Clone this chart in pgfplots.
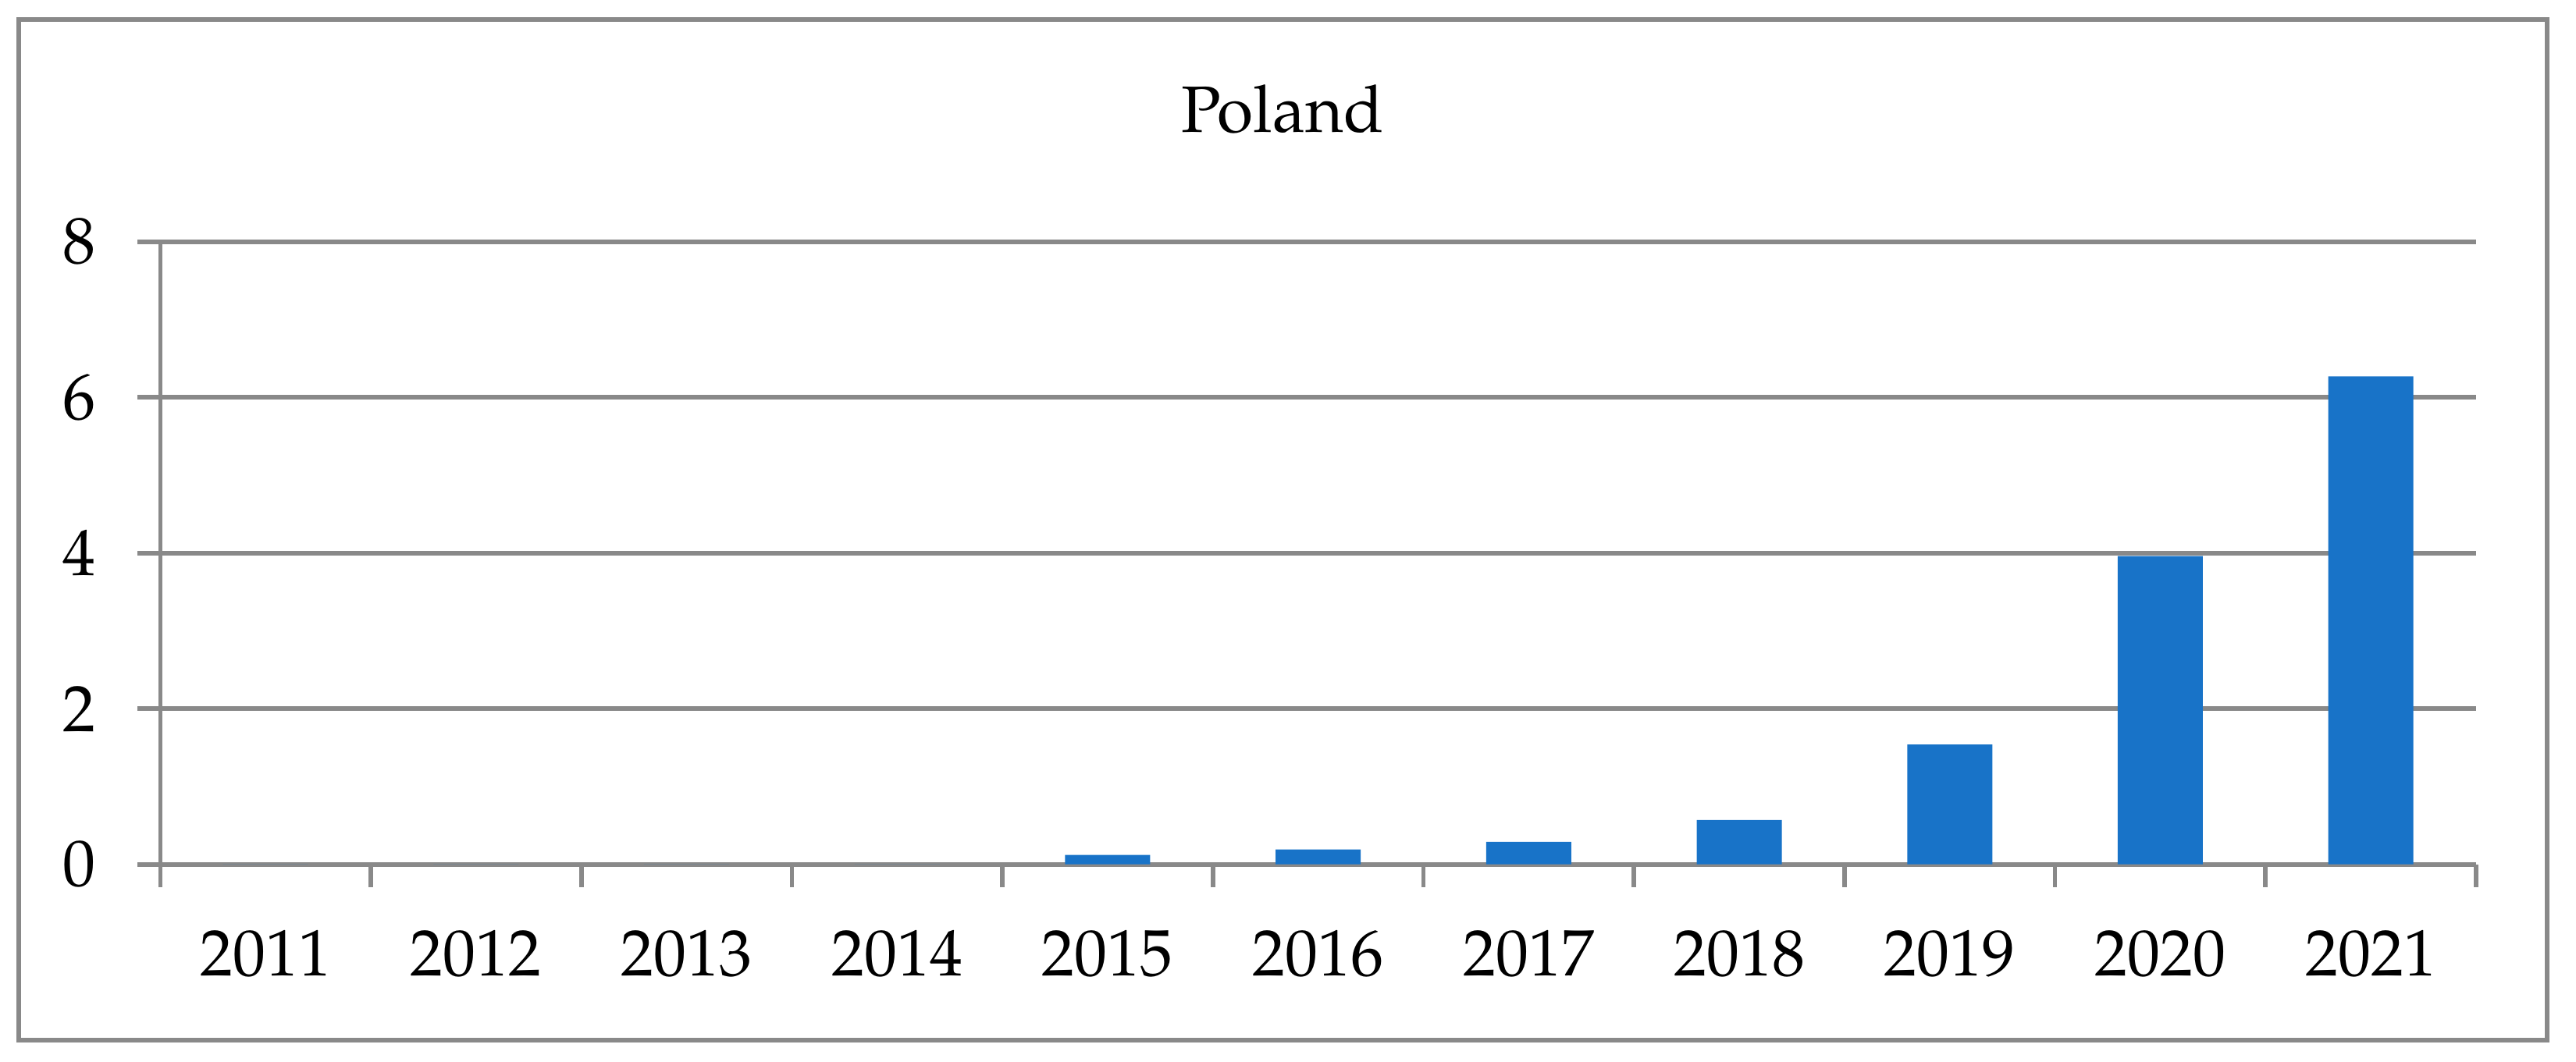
\documentclass[border=0pt]{standalone}
\usepackage{fontspec}
\setmainfont{texgyrepagella-regular.otf}
\usepackage{pgfplots}
\pgfplotsset{compat=1.18}
\definecolor{barBlue}{HTML}{1873C8}
\definecolor{lineGray}{HTML}{898989}

\begin{document}
\begin{tikzpicture}
  \useasboundingbox (0,0) rectangle (495pt,204pt);
  \begin{axis}[
    at={(30.8pt,37.85pt)}, anchor=south west,
    scale only axis,
    width=445pt, height=119.7pt,
    xmin=-0.5, xmax=10.5,
    ymin=0, ymax=8,
    axis x line*=bottom,
    axis y line*=left,
    axis line style={lineGray, line width=0.85pt, -},
    xtick={0,...,10},
    xticklabels={2011,2012,2013,2014,2015,2016,2017,2018,2019,2020,2021},
    minor xtick={-0.5,0.5,...,10.5},
    major x tick style={draw=none},
    minor x tick style={draw=lineGray, line width=0.85pt},
    minor tick length=4.35pt,
    ytick={0,2,4,6,8},
    yticklabels={0,2,4,6,8},
    ytick style={lineGray, line width=0.85pt},
    major tick length=4.35pt,
    tick align=outside,
    ymajorgrids,
    grid style={lineGray, line width=0.85pt},
    tick label style={font=\fontsize{12.6}{15}\selectfont, black},
    xticklabel style={anchor=base, yshift=-17pt},
    yticklabel style={anchor=east, xshift=-4.5pt},
    title={Poland},
    title style={font=\fontsize{12.6}{15}\selectfont, anchor=base,
      at={(0.4846,1)}, yshift=15.1pt},
    clip=false,
  ]
    \addplot[ybar, bar width=16.35pt, fill=barBlue, draw=none] coordinates {
      (0,0) (1,0) (2,0) (3,0) (4,0.12) (5,0.19) (6,0.29) (7,0.57)
      (8,1.54) (9,3.96) (10,6.27)
    };
  \end{axis}
  \draw[lineGray, line width=0.85pt] (3.6pt,4.1pt) rectangle (489.45pt,200.25pt);
\end{tikzpicture}
\end{document}
